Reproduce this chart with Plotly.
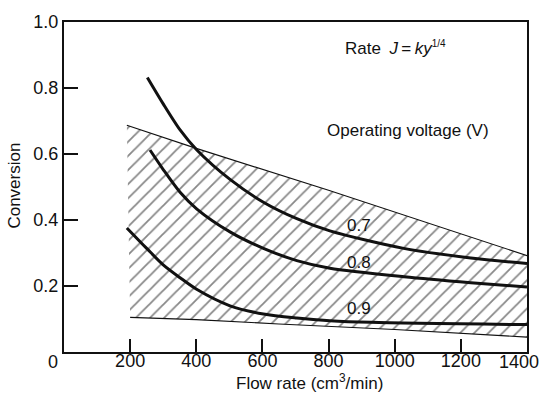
import plotly.graph_objects as go

# Curves (operating voltage)
v07_x = [252, 300, 351, 401, 502, 603, 704, 804, 1027, 1230, 1400]
v07_y = [0.832, 0.752, 0.673, 0.613, 0.523, 0.454, 0.404, 0.367, 0.314, 0.285, 0.268]
v08_x = [260, 300, 351, 401, 502, 603, 704, 804, 1028, 1230, 1400]
v08_y = [0.612, 0.553, 0.484, 0.434, 0.364, 0.314, 0.277, 0.254, 0.228, 0.21, 0.197]
v09_x = [190, 250, 300, 351, 401, 502, 603, 704, 804, 928, 1400]
v09_y = [0.376, 0.314, 0.264, 0.225, 0.19, 0.14, 0.115, 0.103, 0.095, 0.09, 0.083]

# Hatched region boundaries
top_x = [190, 400, 800, 1200, 1400]
top_y = [0.687, 0.617, 0.49, 0.357, 0.292]
bot_x = [200, 400, 650, 1000, 1400]
bot_y = [0.105, 0.098, 0.085, 0.068, 0.045]

curve_labels = ["0.7", "0.8", "0.9"]
label_x = [891, 891, 891]
label_y = [0.384, 0.270, 0.133]

x_ticks = [200, 400, 600, 800, 1000, 1200, 1400]
x_ticktext = ["200", "400", "600", "800", "1000", "1200", ""]
y_ticks = [0.2, 0.4, 0.6, 0.8, 1.0]
y_ticktext = ["0.2", "0.4", "0.6", "0.8", "1.0"]

INK = "#111111"
FONT = "Liberation Sans"

fig = go.Figure()

poly_x = top_x + bot_x[::-1] + [top_x[0]]
poly_y = top_y + bot_y[::-1] + [top_y[0]]
fig.add_trace(go.Scatter(
    x=poly_x, y=poly_y, mode="lines", fill="toself",
    line=dict(width=0, color="rgba(0,0,0,0)"),
    fillcolor="rgba(0,0,0,0)",
    fillpattern=dict(shape="/", size=10, solidity=0.18, fgcolor=INK,
                     bgcolor="rgba(0,0,0,0)"),
    hoverinfo="skip", showlegend=False))
for bx, by in [(top_x, top_y), (bot_x, bot_y)]:
    fig.add_trace(go.Scatter(x=bx, y=by, mode="lines",
                             line=dict(color=INK, width=1.1),
                             showlegend=False, hoverinfo="skip"))
for cx, cy in [(v07_x, v07_y), (v08_x, v08_y), (v09_x, v09_y)]:
    fig.add_trace(go.Scatter(x=cx, y=cy, mode="lines",
                             line=dict(color=INK, width=3, shape="spline", smoothing=0.8),
                             showlegend=False))

def note(text, x, y, ref="data", size=17, angle=0, xanchor="center"):
    fig.add_annotation(x=x, y=y, xref="x" if ref == "data" else "paper",
                       yref="y" if ref == "data" else "paper",
                       text=text, showarrow=False, textangle=angle,
                       xanchor=xanchor, yanchor="middle",
                       font=dict(size=size, color=INK, family=FONT))

for t, lx, ly in zip(curve_labels, label_x, label_y):
    note(t, lx, ly)

note("Rate\u2002<i>J</i>\u2009=\u2009<i>ky</i><sup><span style='font-size:10px'>1/4</span></sup>", 1001, 0.922)
note("Operating voltage (V)", 1040, 0.672)
note("Conversion", -0.106, 0.504, ref="paper", angle=-90)
note("Flow rate (cm<sup>3</sup>/min)", 0.531, -0.09, ref="paper")
note("0", -0.024, -0.03, ref="paper", size=18)
note("1400", 1.030, -0.03, ref="paper", size=18, xanchor="right")

fig.update_xaxes(range=[0, 1400], tickvals=x_ticks, ticktext=x_ticktext,
                 ticks="inside", ticklen=13, tickwidth=1.5, tickcolor=INK,
                 ticklabelstandoff=-9,
                 showline=True, linewidth=2, linecolor=INK, mirror=True,
                 showgrid=False, zeroline=False,
                 tickfont=dict(size=18, color=INK, family=FONT))
fig.update_yaxes(range=[0, 1], tickvals=y_ticks, ticktext=y_ticktext,
                 ticks="inside", ticklen=14, tickwidth=1.5, tickcolor=INK,
                 showline=True, linewidth=2, linecolor=INK, mirror=True,
                 showgrid=False, zeroline=False,
                 tickfont=dict(size=18, color=INK, family=FONT))

fig.update_layout(width=543, height=397,
                  margin=dict(l=64, r=16, t=17, b=45),
                  paper_bgcolor="white", plot_bgcolor="white",
                  font=dict(family=FONT, color=INK))

fig.write_html("out.html")
